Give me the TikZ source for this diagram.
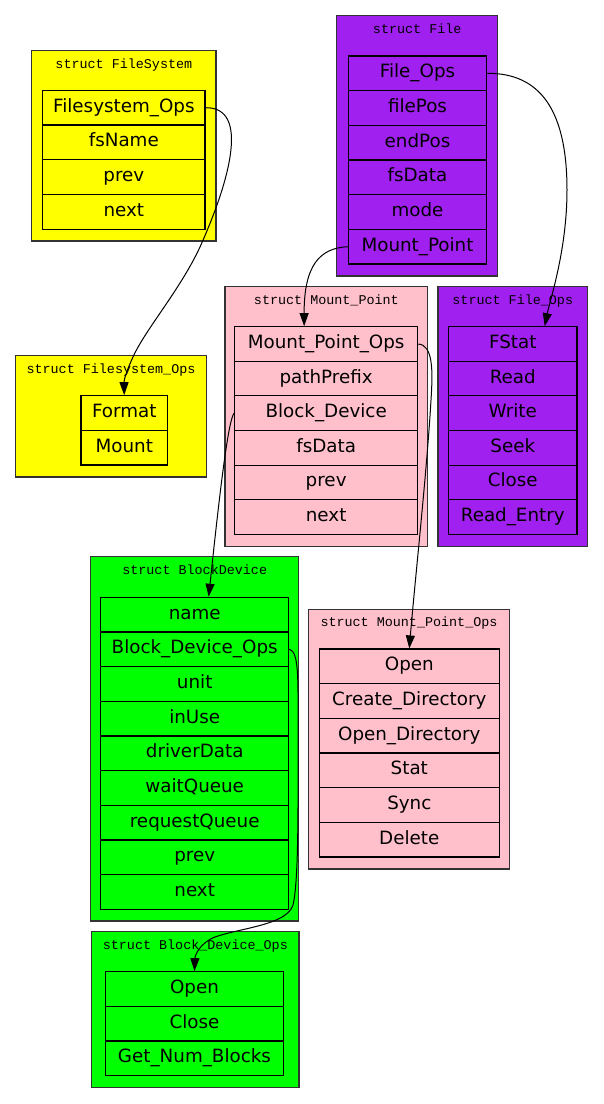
\documentclass[tikz,border=0pt]{standalone}
\usepackage{fontspec}
\usepackage{xcolor}
\usepackage{tikz}
\usetikzlibrary{arrows.meta}
\newfontfamily\fieldfont{DejaVu Sans}
\newfontfamily\titlefont{Liberation Mono}
\definecolor{fsyellow}{RGB}{255,255,0}
\definecolor{filepurple}{RGB}{160,32,240}
\definecolor{mppink}{RGB}{255,192,203}
\definecolor{bdgreen}{RGB}{0,255,0}

\begin{document}
\begin{tikzpicture}[x=1pt, y=-1pt,
  field/.style   = {rectangle, draw, line width=1.1pt, inner sep=0pt, text height=13.3pt, text depth=4.5pt, font=\fieldfont\fontsize{18.3}{20}\selectfont},
  cluster/.style = {rectangle, draw=black!80, line width=1.2pt, inner sep=0pt},
  title/.style   = {anchor=base, inner sep=0pt, font=\titlefont\fontsize{13.4}{15}\selectfont},
  yellowf/.style = {field, fill=fsyellow},
  purplef/.style = {field, fill=filepurple},
  pinkf/.style   = {field, fill=mppink},
  greenf/.style  = {field, fill=bdgreen},
  ptr/.style     = {-{Triangle[length=13pt, width=9pt]}, line width=1pt},
]
\useasboundingbox (0,0) rectangle (604,1104);
% struct FileSystem
\node[cluster, fill=fsyellow, minimum width=184.3pt, minimum height=190.3pt] (cFileSystem) at (123.85,145.85) {};
\node[title] (tFileSystem) at (123.85,68.3) {struct FileSystem};
\node[yellowf, minimum width=162.3pt, minimum height=34.75pt] (fsOps)  at (123.85,107.7) {Filesystem\_Ops};
\node[yellowf, minimum width=162.3pt, minimum height=34.75pt] (fsName) at (123.85,142.4) {fsName};
\node[yellowf, minimum width=162.3pt, minimum height=34.75pt] (fsPrev) at (123.85,177.2) {prev};
\node[yellowf, minimum width=162.3pt, minimum height=34.75pt] (fsNext) at (123.85,211.9) {next};
% struct File
\node[cluster, fill=filepurple, minimum width=161pt, minimum height=260.3pt] (cFile) at (417.2,145.85) {};
\node[title] (tFile) at (417.2,33.3) {struct File};
\node[purplef, minimum width=138.4pt, minimum height=34.67pt] (fileOps)   at (417.5,73.3)  {File\_Ops};
\node[purplef, minimum width=138.4pt, minimum height=34.67pt] (filePos)   at (417.5,108.0) {filePos};
\node[purplef, minimum width=138.4pt, minimum height=34.67pt] (fileEnd)   at (417.5,142.7) {endPos};
\node[purplef, minimum width=138.4pt, minimum height=34.67pt] (fileData)  at (417.5,177.3) {fsData};
\node[purplef, minimum width=138.4pt, minimum height=34.67pt] (fileMode)  at (417.5,212.0) {mode};
\node[purplef, minimum width=138.4pt, minimum height=34.67pt] (fileMount) at (417.5,246.7) {Mount\_Point};
% struct Mount_Point
\node[cluster, fill=mppink, minimum width=202.7pt, minimum height=260pt] (cMountPoint) at (326.35,416.7) {};
\node[title] (tMountPoint) at (326.35,304.3) {struct Mount\_Point};
\node[pinkf, minimum width=183.1pt, minimum height=34.6pt] (mpOps)    at (326.15,344.0) {Mount\_Point\_Ops};
\node[pinkf, minimum width=183.1pt, minimum height=34.6pt] (mpPrefix) at (326.15,378.6) {pathPrefix};
\node[pinkf, minimum width=183.1pt, minimum height=34.6pt] (mpBlock)  at (326.15,413.2) {Block\_Device};
\node[pinkf, minimum width=183.1pt, minimum height=34.6pt] (mpData)   at (326.15,447.8) {fsData};
\node[pinkf, minimum width=183.1pt, minimum height=34.6pt] (mpPrev)   at (326.15,482.4) {prev};
\node[pinkf, minimum width=183.1pt, minimum height=34.6pt] (mpNext)   at (326.15,517.0) {next};
% struct File_Ops
\node[cluster, fill=filepurple, minimum width=149.5pt, minimum height=260pt] (cFileOps) at (512.75,416.7) {};
\node[title] (tFileOps) at (512.75,304.3) {struct File\_Ops};
\node[purplef, minimum width=128.5pt, minimum height=34.6pt] (foStat)  at (512.75,344.0) {FStat};
\node[purplef, minimum width=128.5pt, minimum height=34.6pt] (foRead)  at (512.75,378.6) {Read};
\node[purplef, minimum width=128.5pt, minimum height=34.6pt] (foWrite) at (512.75,413.2) {Write};
\node[purplef, minimum width=128.5pt, minimum height=34.6pt] (foSeek)  at (512.75,447.8) {Seek};
\node[purplef, minimum width=128.5pt, minimum height=34.6pt] (foClose) at (512.75,482.4) {Close};
\node[purplef, minimum width=128.5pt, minimum height=34.6pt] (foEntry) at (512.75,517.0) {Read\_Entry};
% struct Filesystem_Ops
\node[cluster, fill=fsyellow, minimum width=191pt, minimum height=121.3pt] (cFsOps) at (111,416.35) {};
\node[title] (tFsOps) at (111,373.3) {struct Filesystem\_Ops};
\node[yellowf, minimum width=86.5pt, minimum height=34.65pt] (fsoFormat) at (124.25,413.0) {Format};
\node[yellowf, minimum width=86.5pt, minimum height=34.65pt] (fsoMount)  at (124.25,447.7) {Mount};
% struct BlockDevice
\node[cluster, fill=bdgreen, minimum width=208pt, minimum height=364.3pt] (cBlockDevice) at (194.7,738.85) {};
\node[title] (tBlockDevice) at (194.7,574.3) {struct BlockDevice};
\node[greenf, minimum width=188pt, minimum height=34.67pt] (bdName)    at (194.7,614.6) {name};
\node[greenf, minimum width=188pt, minimum height=34.67pt] (bdOps)     at (194.7,649.3) {Block\_Device\_Ops};
\node[greenf, minimum width=188pt, minimum height=34.67pt] (bdUnit)    at (194.7,684.0) {unit};
\node[greenf, minimum width=188pt, minimum height=34.67pt] (bdInUse)   at (194.7,718.6) {inUse};
\node[greenf, minimum width=188pt, minimum height=34.67pt] (bdDriver)  at (194.7,753.3) {driverData};
\node[greenf, minimum width=188pt, minimum height=34.67pt] (bdWait)    at (194.7,788.0) {waitQueue};
\node[greenf, minimum width=188pt, minimum height=34.67pt] (bdRequest) at (194.7,822.6) {requestQueue};
\node[greenf, minimum width=188pt, minimum height=34.67pt] (bdPrev)    at (194.7,857.3) {prev};
\node[greenf, minimum width=188pt, minimum height=34.67pt] (bdNext)    at (194.7,892.0) {next};
% struct Mount_Point_Ops
\node[cluster, fill=mppink, minimum width=200.6pt, minimum height=259.7pt] (cMpOps) at (409,739.15) {};
\node[title] (tMpOps) at (409,626.9) {struct Mount\_Point\_Ops};
\node[pinkf, minimum width=180pt, minimum height=34.67pt] (mpoOpen)    at (409.3,666.3) {Open};
\node[pinkf, minimum width=180pt, minimum height=34.67pt] (mpoCreate)  at (409.3,701.0) {Create\_Directory};
\node[pinkf, minimum width=180pt, minimum height=34.67pt] (mpoOpenDir) at (409.3,735.7) {Open\_Directory};
\node[pinkf, minimum width=180pt, minimum height=34.67pt] (mpoStat)    at (409.3,770.3) {Stat};
\node[pinkf, minimum width=180pt, minimum height=34.67pt] (mpoSync)    at (409.3,805.0) {Sync};
\node[pinkf, minimum width=180pt, minimum height=34.67pt] (mpoDelete)  at (409.3,839.7) {Delete};
% struct Block_Device_Ops
\node[cluster, fill=bdgreen, minimum width=207.3pt, minimum height=156pt] (cBdOps) at (195.35,1009.7) {};
\node[title] (tBdOps) at (195.35,949.3) {struct Block\_Device\_Ops};
\node[greenf, minimum width=177.6pt, minimum height=34.67pt] (bdoOpen)   at (194.5,989.0)  {Open};
\node[greenf, minimum width=177.6pt, minimum height=34.67pt] (bdoClose)  at (194.5,1023.7) {Close};
\node[greenf, minimum width=177.6pt, minimum height=34.67pt] (bdoBlocks) at (194.5,1058.4) {Get\_Num\_Blocks};
% Pointers
\draw[ptr] (fsOps.east) .. controls (250,107) and (230,180) .. (200,247)
  .. controls (180,290) and (145,330) .. (133,357)
  .. controls (126,372) and (124,380) .. (fsoFormat.north);
\draw[ptr] (fileOps.east) .. controls (540,73) and (567,110) .. (567,190)
  .. controls (567,250) and (550,300) .. ([xshift=32pt]foStat.north);
\draw[ptr] (fileMount.west) .. controls (320,248) and (304,265) .. ([xshift=-22pt]mpOps.north);
\draw[ptr] (mpBlock.west) .. controls (229,420) and (222,470) .. ([xshift=14pt]bdName.north);
\draw[ptr] (mpOps.east) .. controls (433,345) and (433,370) .. (431,400)
  .. controls (427,470) and (415,580) .. (mpoOpen.north);
\draw[ptr] (bdOps.east) .. controls (299,651) and (298,680) .. (298,720)
  .. controls (298,800) and (299,880) .. (293,905)
  .. controls (287,925) and (240,928) .. (215,937)
  .. controls (200,943) and (195,955) .. (bdoOpen.north);
\end{tikzpicture}
\end{document}
